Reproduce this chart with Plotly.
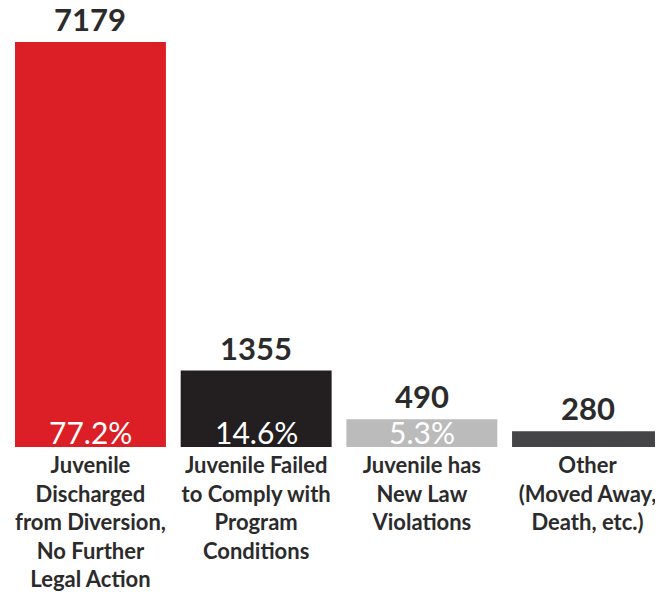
import plotly.graph_objects as go

categories = [
    "Juvenile<br>Discharged<br>from Diversion,<br>No Further<br>Legal Action",
    "Juvenile Failed<br>to Comply with<br>Program<br>Conditions",
    "Juvenile has<br>New Law<br>Violations",
    "Other<br>(Moved Away,<br>Death, etc.)",
]
counts = [7179, 1355, 490, 280]
pct_labels = ["77.2%", "14.6%", "5.3%", ""]
bar_colors = ["#DC1F26", "#231F20", "#BBBBBB", "#454547"]

x = list(range(len(counts)))

fig = go.Figure(go.Bar(
    x=x, y=counts,
    marker=dict(color=bar_colors, line=dict(width=0)),
    hoverinfo="skip",
))

for i, v in enumerate(counts):
    fig.add_annotation(
        x=i, y=v, text=str(v), showarrow=False,
        yanchor="bottom", yshift=2,
        font=dict(family="Lato", size=31, color="#2b2b2b", weight="bold"),
    )
    if pct_labels[i]:
        fig.add_annotation(
            x=i, y=0, text=pct_labels[i], showarrow=False,
            yanchor="bottom", yshift=-5,
            font=dict(family="Lato", size=30, color="#ffffff"),
        )

# page body has an 8px margin, so the figure is sized to fit the window
gap = 0.089
fig.update_layout(
    width=655, height=586,
    margin=dict(l=7, r=0, t=0, b=147),
    plot_bgcolor="white", paper_bgcolor="white",
    bargap=gap, showlegend=False,
    xaxis=dict(
        range=[-0.5 + gap / 2, len(counts) - 0.5 - gap / 2],
        tickmode="array", tickvals=x, ticktext=categories,
        showgrid=False, zeroline=False, showline=False, ticks="",
        ticklabelstandoff=3,
        tickfont=dict(family="Lato", size=22, color="#2b2b2b", weight="bold"),
    ),
    yaxis=dict(range=[0, 7782], visible=False),
)

fig.write_html("out.html")
